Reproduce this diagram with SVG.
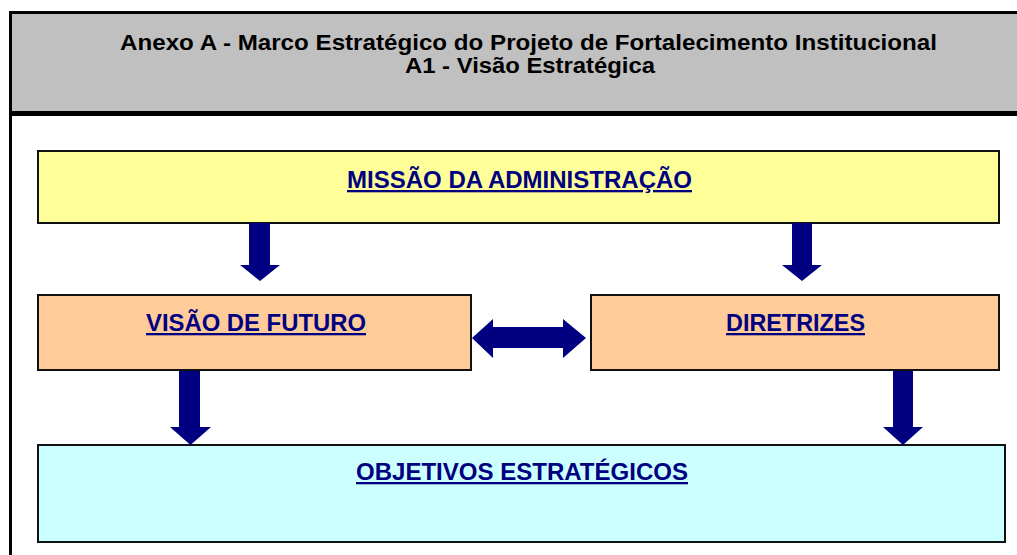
<svg xmlns="http://www.w3.org/2000/svg" width="1017" height="555" viewBox="0 0 1017 555">
<style>
.box{stroke:#111;stroke-width:2}
.lbl{font-family:"Liberation Sans",Arial,sans-serif;font-weight:bold;font-size:23px;fill:#000080;text-decoration:underline;text-anchor:middle}
.hdr{font-family:"Liberation Sans",Arial,sans-serif;font-weight:bold;font-size:22px;fill:#000;text-anchor:middle}
.arr{fill:#000080}
</style>
<rect x="0" y="0" width="1017" height="555" fill="#fff"/>
<g id="header">
<rect x="12" y="14" width="1005" height="97" fill="#c0c0c0"/>
<rect x="9" y="11" width="1008" height="3" fill="#000"/>
<rect x="9" y="111" width="1008" height="5" fill="#000"/>
<rect x="9" y="11" width="3" height="544" fill="#000"/>
<text class="hdr" x="528.5" y="50" textLength="817" lengthAdjust="spacingAndGlyphs">Anexo A - Marco Estratégico do Projeto de Fortalecimento Institucional</text>
<text class="hdr" x="530" y="73" textLength="250" lengthAdjust="spacingAndGlyphs">A1 - Visão Estratégica</text>
</g>
<g id="missao">
<rect class="box" x="38" y="151" width="961" height="72" fill="#ffff99"/>
<text class="lbl" x="519.5" y="188" textLength="345" lengthAdjust="spacingAndGlyphs">MISSÃO DA ADMINISTRAÇÃO</text>
</g>
<g id="visao">
<rect class="box" x="38" y="295" width="433" height="75" fill="#ffcc99"/>
<text class="lbl" x="256" y="331" textLength="220" lengthAdjust="spacingAndGlyphs">VISÃO DE FUTURO</text>
</g>
<g id="diretrizes">
<rect class="box" x="591" y="295" width="408" height="75" fill="#ffcc99"/>
<text class="lbl" x="795.5" y="331" textLength="139" lengthAdjust="spacingAndGlyphs">DIRETRIZES</text>
</g>
<g id="objetivos">
<rect class="box" x="38" y="445" width="967" height="97" fill="#ccffff"/>
<text class="lbl" x="522" y="480" textLength="332" lengthAdjust="spacingAndGlyphs">OBJETIVOS ESTRATÉGICOS</text>
</g>
<g id="connectors">
<polygon class="arr" points="249,223 270,223 270,265 280,265 260,281 240,265 249,265"/>
<polygon class="arr" points="792,223 812,223 812,265 822,265 802,281 782,265 792,265"/>
<polygon class="arr" points="179,371 200,371 200,427 211,427 190.5,445 170,427 179,427"/>
<polygon class="arr" points="893,371 913,371 913,427 923,427 903,445 883,427 893,427"/>
<polygon class="arr" points="472,338 493,319 493,327 563,327 563,319 586,338 563,358 563,348 493,348 493,358"/>
</g>
</svg>
